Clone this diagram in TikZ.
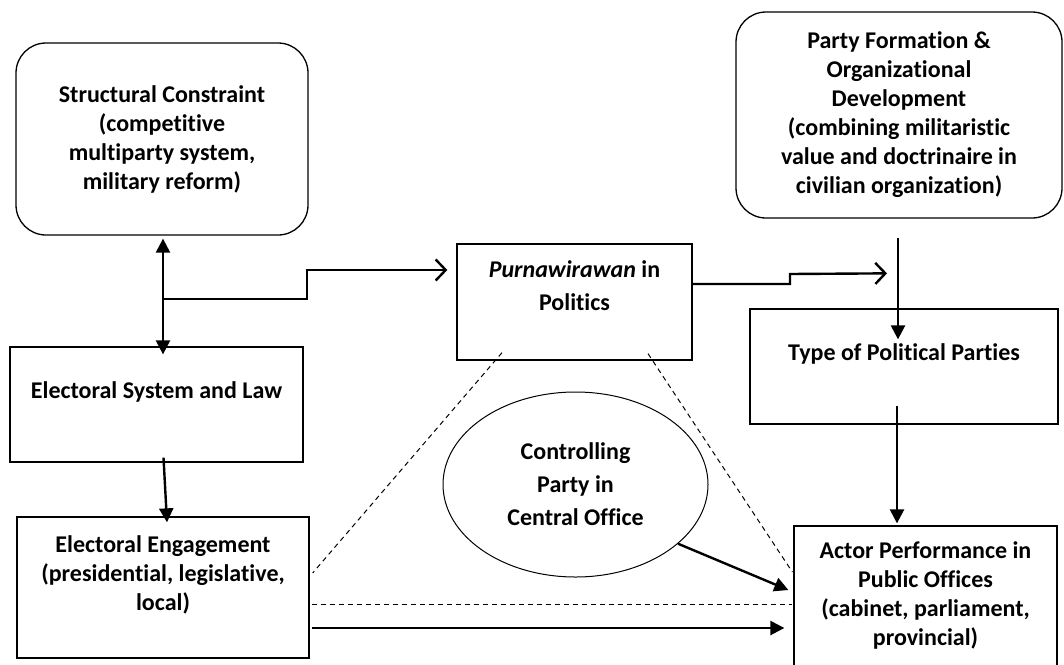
\documentclass[tikz,border=0pt]{standalone}
\usepackage{fontspec}
\setmainfont{Carlito}[Ligatures=NoCommon]
\usepackage{tikz}
\usetikzlibrary{arrows.meta,calc,shapes.geometric}

\begin{document}
\begin{tikzpicture}[x=1pt,y=-1pt,
	every node/.style={font=\bfseries\fontsize{24}{29}\selectfont,align=center,inner sep=0pt},
	box/.style={draw,line width=1.3pt},
	rbox/.style={box,rounded corners=30pt},
	wide/.style={font=\bfseries\fontsize{24}{33}\selectfont},
	tip/.style={Triangle[length=14pt,width=14pt]},
	arr/.style={line width=2.4pt,-{Triangle[length=14pt,width=14pt]}},
	steparr/.style={line width=2.4pt,-{Straight Barb[length=10pt,width=21pt]}},
	dashline/.style={dash pattern=on 5pt off 4pt,line width=1pt}]
				\useasboundingbox (0,0) rectangle (1064,664);
				
				\node[rbox,minimum width=292pt,minimum height=192pt] (sc) at (162,139) {Structural Constraint\\(competitive\\multiparty system,\\military reform)};%left top
				\node[rbox,minimum width=326pt,minimum height=206pt] (pf) at (899,115) {Party Formation \&\\Organizational\\Development\\(combining militaristic\\value and doctrinaire in\\civilian organization)};%right top
				\node[box,wide,minimum width=235pt,minimum height=116pt] (pol) at (574.5,302) {\textit{Purnawirawan} in\\Politics\\~};%middle
				\node[box,minimum width=293pt,minimum height=115pt] (es) at (156.5,404.5) {Electoral System and Law\\~};
				\node[box,minimum width=308pt,minimum height=115pt] (tp) at (904,366.5) {Type of Political Parties\\~};
				\node[box,minimum width=292pt,minimum height=141pt] (ee) at (163,587.5) {Electoral Engagement\\(presidential, legislative,\\local)\\~};
				\node[box,minimum width=263pt,minimum height=164pt] (ap) at (925.5,608) {Actor Performance in\\Public Offices\\(cabinet, parliament,\\provincial)\\~};
				\node[draw,ellipse,wide,line width=1pt,minimum width=265pt,minimum height=185pt] (ctl) at (575.5,484.5) {Controlling\\Party in\\Central Office};
				
				\coordinate (br) at (163,299);%branch
				
				\draw[line width=2.4pt,{Triangle[length=14pt,width=14pt]}-{Triangle[length=14pt,width=14pt]}] ($(sc.south)+(1,3)$) -- ($(sc.south |- es.north)+(1,8)$);
				\draw[steparr] (br) -| (307,270) -- ($(pol.west)+(-9,-32)$);
				\draw[steparr] ($(pol.east)+(0,-18)$) -| (790,274) -- ($(tp.north)+(-17,-35)$);
				\draw[arr] ($(pf.south)+(-1,19)$) -- ($(pf.south |- tp.north)+(-1,31)$);
				\draw[arr] ($(tp.south)+(-7,-19)$) -- ($(tp.south |- ap.north)+(-7,-2)$);
				\draw[arr] ($(es.south)+(7,-5)$) -- ($(ee.north)+(4,6)$);
				\draw[arr] (ctl.-30) -- ($(ap.west)+(-5,-18)$);
				\draw[arr] ($(ee.east)+(2,40.5)$) -- ($(ap.west)+(-9,20)$);
				
				\draw[dashline] ($(ee.east)+(2,16.5)$) -- ($(ap.west)+(-1,-4)$);
				\draw[dashline] ($(pol.south)+(-72.5,-8)$) -- ($(ee.east)+(3,-14.5)$);
				\draw[dashline] ($(pol.south)+(73.5,-7)$) -- ($(ap.west)+(-1,-36)$);
			\end{tikzpicture}
\end{document}
